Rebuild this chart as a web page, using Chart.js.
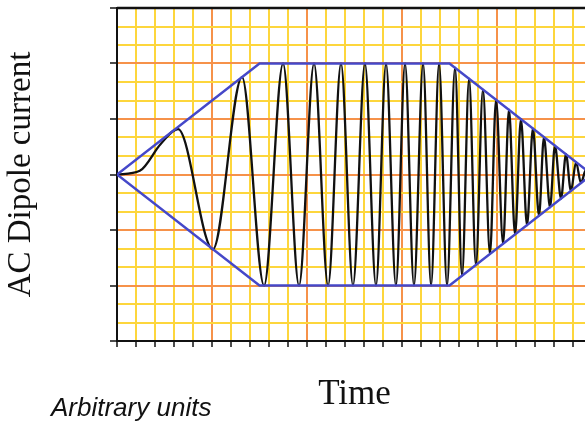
<!DOCTYPE html>
<html>
<head>
<meta charset="utf-8">
<style>
  html, body { margin: 0; padding: 0; overflow: hidden; background: #fff; }
  #wrap { width: 600px; height: 423px; }
</style>
<script src="https://cdn.jsdelivr.net/npm/chart.js@4.4.0/dist/chart.umd.min.js"></script>
</head>
<body>
<div id="wrap"><canvas id="chart" width="600" height="423"></canvas></div>
<script>
// axes counted in grid squares: 5 squares per major time division, 3 per major current division
const xMin = 0, xMax = 25, xMajor = 5;
const yMin = -9, yMax = 9, yMajor = 3;

// ramp up, flat top, ramp down
const envX = [0, 7.5, 17.5, 25];
const envUpper = [0, 6, 6, 0];
const envLower = [0, -6, -6, 0];

// sweep: start, then every crest / trough
const waveX = [
  0, 1.2, 2.3, 3.21, 5.05, 6.58, 7.74, 8.74, 9.58, 10.37, 11.11, 11.79, 12.42,
  13.05, 13.63, 14.16, 14.68, 15.16, 15.63, 16.11, 16.53, 16.95, 17.37, 17.79,
  18.16, 18.53, 18.89, 19.26, 19.63, 19.95, 20.32, 20.63, 20.95, 21.26, 21.58,
  21.89, 22.21, 22.47, 22.79, 23.05, 23.37, 23.63, 23.89, 24.16, 24.42, 24.68, 25
];
const waveY = [
  0, 0.2, 1.65, 2.45, -4.04, 5.26, -6, 6, -6, 6, -6, 6, -6,
  6, -6, 6, -6, 6, -6, 6, -6, 6, -6, 5.77,
  -5.47, 5.18, -4.89, 4.59, -4.3, 4.04, -3.74, 3.5, -3.24, 2.99, -2.74,
  2.49, -2.23, 2.02, -1.77, 1.56, -1.3, 1.1, -0.89, 0.67, -0.46, 0.26, 0
];

const yTitle = "AC Dipole current";
const xTitle = "Time";
const note = "Arbitrary units";

const orange = "#f6924a";
const yellow = "#fdd63c";
const ink = "#111";
const blue = "#4548c9";

const pts = (xs, ys) => xs.map((x, i) => ({ x, y: ys[i] }));
const isMajor = (v, step) => Math.abs(v % step) < 1e-6;

// top frame line and the units note under the axis
const extras = {
  id: "extras",
  afterDraw(chart) {
    const { ctx, chartArea } = chart;
    ctx.save();
    ctx.strokeStyle = ink;
    ctx.lineWidth = 2.5;
    ctx.beginPath();
    ctx.moveTo(chartArea.left, chartArea.top);
    ctx.lineTo(chartArea.right, chartArea.top);
    ctx.stroke();
    ctx.font = 'italic 26px "Liberation Sans"';
    ctx.fillStyle = ink;
    ctx.textBaseline = "alphabetic";
    ctx.fillText(note, 51, 416);
    ctx.restore();
  }
};

new Chart(document.getElementById("chart"), {
  type: "line",
  data: {
    datasets: [
      { data: pts(envX, envUpper), borderColor: blue, borderWidth: 2.5, pointRadius: 0, order: 0 },
      { data: pts(envX, envLower), borderColor: blue, borderWidth: 2.5, pointRadius: 0, order: 0 },
      {
        data: pts(waveX, waveY), borderColor: ink, borderWidth: 2.3, pointRadius: 0,
        cubicInterpolationMode: "monotone", order: 1
      }
    ]
  },
  options: {
    responsive: false,
    animation: false,
    layout: { padding: { left: 0, top: 8, right: 8, bottom: 0 } },
    plugins: { legend: { display: false }, tooltip: { enabled: false } },
    scales: {
      x: {
        type: "linear", min: xMin, max: xMax,
        ticks: { display: false, stepSize: 1, autoSkip: false },
        grid: {
          color: c => isMajor(c.tick.value, xMajor) ? orange : yellow,
          lineWidth: 2, tickColor: ink, tickLength: 6, tickWidth: 1.5
        },
        border: { color: ink, width: 2 },
        title: {
          display: true, text: xTitle, color: ink,
          font: { family: "Liberation Serif", size: 35 },
          padding: { top: 0, bottom: 7 }
        },
        afterFit: s => { s.height = 82; }
      },
      y: {
        type: "linear", min: yMin, max: yMax,
        ticks: { display: false, stepSize: 1, autoSkip: false },
        grid: {
          color: c => isMajor(c.tick.value, yMajor) ? orange : yellow,
          lineWidth: 2, tickLength: 7, tickWidth: 1.5,
          tickColor: c => isMajor(c.tick.value, yMajor) ? ink : "rgba(0,0,0,0)"
        },
        border: { color: ink, width: 2 },
        title: {
          display: true, text: yTitle, color: ink,
          font: { family: "Liberation Serif", size: 33 },
          padding: { top: 2, bottom: 0 }
        },
        afterFit: s => { s.width = 117; }
      }
    }
  },
  plugins: [extras]
});
</script>
</body>
</html>
